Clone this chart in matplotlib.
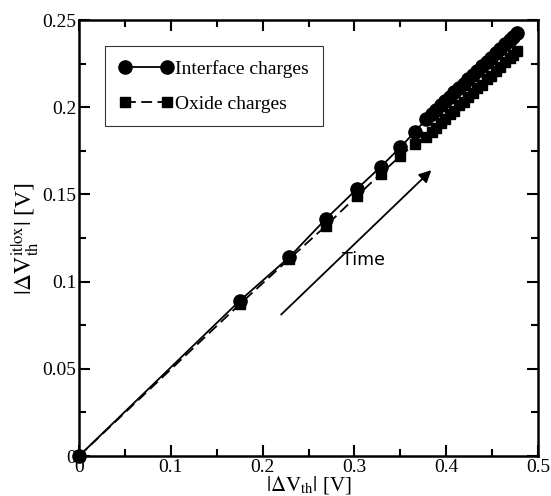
import matplotlib
matplotlib.use("Agg")
import matplotlib.pyplot as plt
from matplotlib.ticker import MultipleLocator, FormatStrFormatter

# data
dvth = [0, 0.175, 0.229, 0.269, 0.3025, 0.329, 0.350, 0.366, 0.378, 0.384,
        0.389, 0.394, 0.399, 0.404, 0.409, 0.414, 0.419, 0.424, 0.429, 0.434,
        0.439, 0.444, 0.449, 0.454, 0.459, 0.464, 0.469, 0.473, 0.477]
interface = [0, 0.089, 0.114, 0.136, 0.153, 0.166, 0.177, 0.186, 0.193, 0.196,
             0.1985, 0.201, 0.2035, 0.206, 0.2085, 0.211, 0.2135, 0.216, 0.2185, 0.221,
             0.2235, 0.226, 0.2285, 0.231, 0.2335, 0.236, 0.2385, 0.2405, 0.2425]
oxide = [0, 0.087, 0.113, 0.132, 0.149, 0.162, 0.172, 0.179, 0.183, 0.186,
         0.188, 0.191, 0.193, 0.196, 0.198, 0.201, 0.203, 0.206, 0.208, 0.211,
         0.213, 0.216, 0.218, 0.221, 0.223, 0.226, 0.228, 0.230, 0.232]

plt.rcParams['font.family'] = ['Liberation Serif', 'DejaVu Serif']
plt.rcParams['mathtext.fontset'] = 'stix'

fig = plt.figure(figsize=(5.51, 4.96), dpi=100)
ax = fig.add_axes([0.1434, 0.0806, 0.8330, 0.8790])

ax.plot(dvth, interface, '-', color='black', lw=1.3, marker='o', ms=9.5,
        label='Interface charges', clip_on=False, zorder=3)
ax.plot(dvth, oxide, '--', color='black', lw=1.3, marker='s', ms=7.5,
        dashes=(6, 3), label='Oxide charges', clip_on=False, zorder=3)

ax.set_xlim(0, 0.5)
ax.set_ylim(0, 0.25)
ax.xaxis.set_major_locator(MultipleLocator(0.1))
ax.xaxis.set_minor_locator(MultipleLocator(0.05))
ax.yaxis.set_major_locator(MultipleLocator(0.05))
ax.yaxis.set_minor_locator(MultipleLocator(0.025))
ax.xaxis.set_major_formatter(FormatStrFormatter('%g'))
ax.yaxis.set_major_formatter(FormatStrFormatter('%g'))
ax.tick_params(which='both', direction='in', top=True, right=True, labelsize=14, width=1.5)
ax.tick_params(which='major', length=8, pad=2)
ax.tick_params(which='minor', length=5)
for s in ax.spines.values():
    s.set_linewidth(1.8)

ax.set_xlabel(r'$|\Delta\mathrm{V}_{\mathrm{th}}|$ [V]', fontsize=15, labelpad=-1)
ax.set_ylabel(r'$|\Delta\mathrm{V}_{\mathrm{th}}^{\mathrm{it|ox}}|$ [V]', fontsize=17, labelpad=0)

leg = ax.legend(loc='upper left', bbox_to_anchor=(0.057, 0.94), borderaxespad=0,
                numpoints=2, fontsize=14, frameon=True, fancybox=False, edgecolor='black',
                handlelength=2.8, handletextpad=0.1, borderpad=0.7, labelspacing=0.9)
leg.get_frame().set_linewidth(0.8)

ax.annotate('', xy=(0.386, 0.165), xytext=(0.218, 0.080),
            arrowprops=dict(arrowstyle='-|>', color='black', lw=1.3, mutation_scale=18))
ax.text(0.310, 0.1126, 'Time', fontsize=12.5, family='DejaVu Sans', ha='center', va='center')

fig.savefig('out.png', dpi=100)
